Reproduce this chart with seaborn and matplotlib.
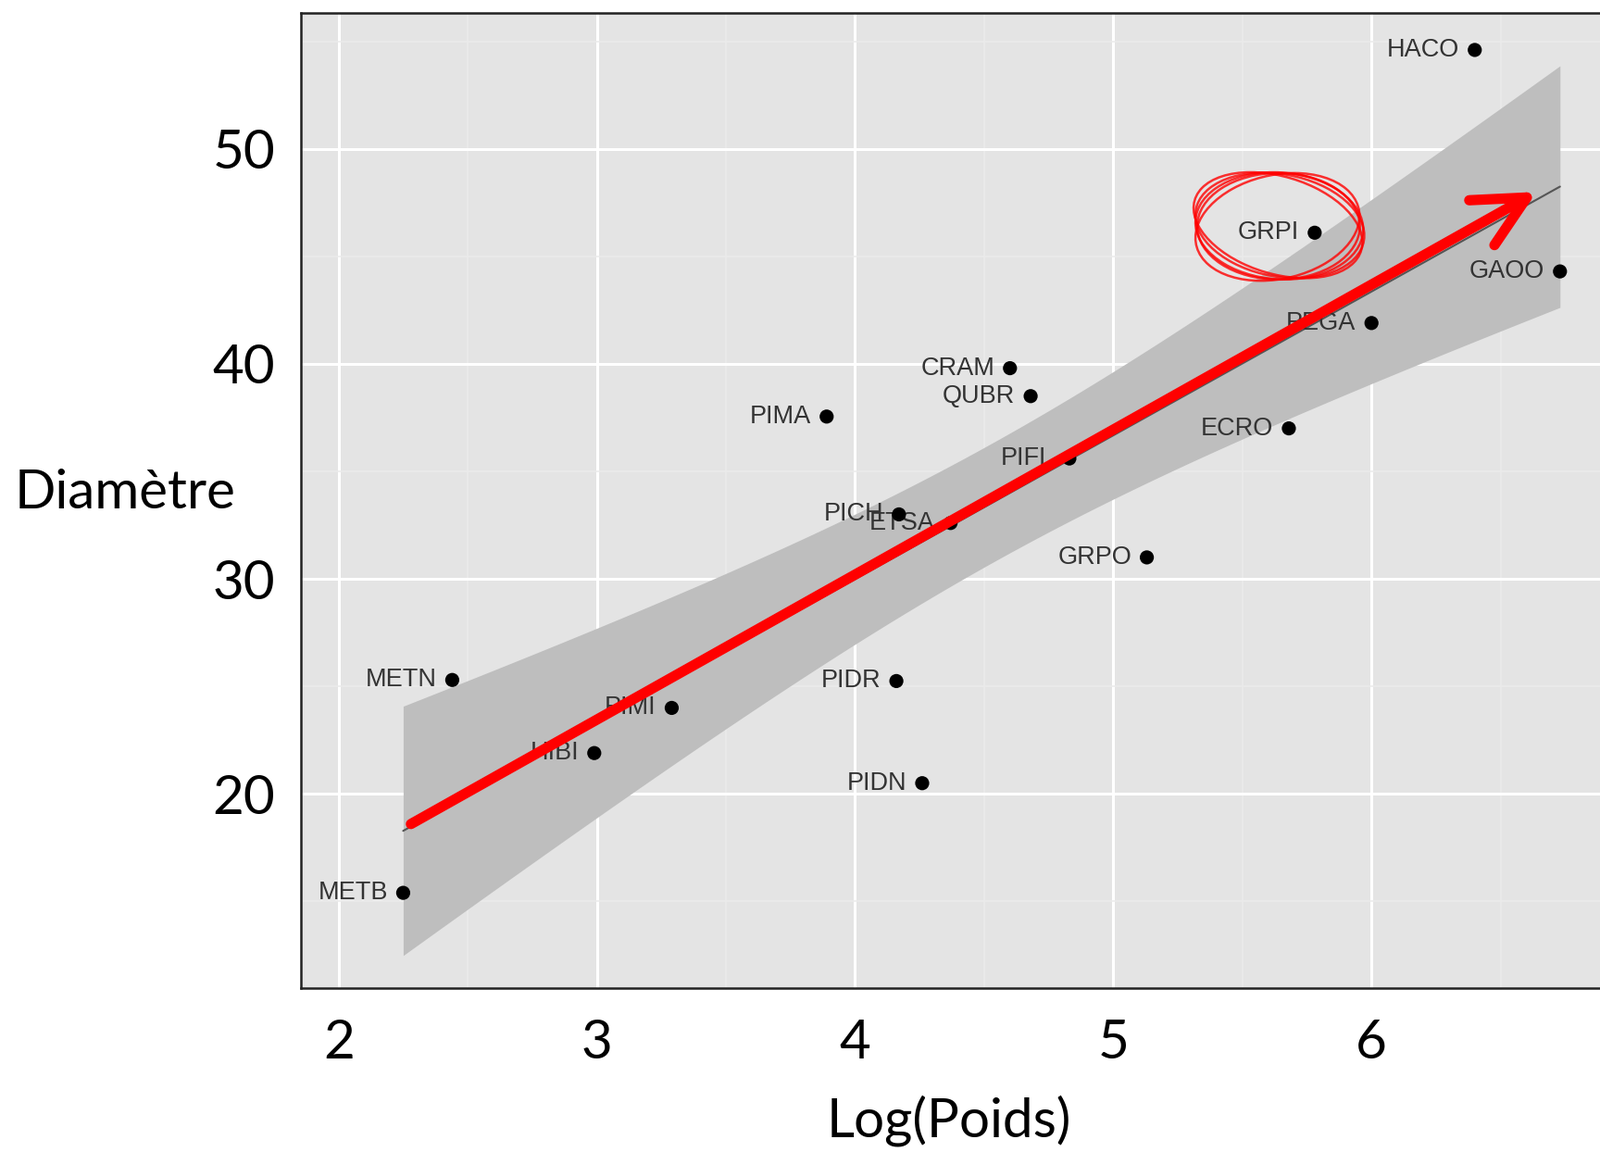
import matplotlib
matplotlib.use("Agg")
import matplotlib.pyplot as plt
from matplotlib.patches import Ellipse
from matplotlib.ticker import MultipleLocator
import seaborn as sns
import pandas as pd
import numpy as np

# ---- data ----
species = ["HACO", "GRPI", "GAOO", "PEGA", "CRAM", "QUBR", "PIMA", "ECRO", "PIFL",
           "PICH", "ETSA", "GRPO", "METN", "PIMI", "PIDR", "HIBI", "PIDN", "METB"]
log_poids = [6.40, 5.78, 6.73, 6.00, 4.60, 4.68, 3.89, 5.68, 4.83,
             4.17, 4.37, 5.13, 2.44, 3.29, 4.16, 2.99, 4.26, 2.25]
diametre = [54.6, 46.1, 44.3, 41.9, 39.8, 38.5, 37.55, 37.0, 35.6,
            33.0, 32.6, 31.0, 25.3, 24.0, 25.25, 21.9, 20.5, 15.4]

x_ticks = [2, 3, 4, 5, 6]
y_ticks = [20, 30, 40, 50]
x_label = "Log(Poids)"
y_label = "Diamètre"

arrow_start = (2.28, 18.6)
arrow_end = (6.64, 48.0)
highlight_center = (5.64, 46.4)

df = pd.DataFrame({"espece": species, "logp": log_poids, "diam": diametre})

sns.set_theme(style="darkgrid")
plt.rcParams["font.family"] = ["Liberation Sans", "DejaVu Sans"]

fig = plt.figure(figsize=(17.28, 12.44), dpi=100)
ax = fig.add_axes([325 / 1728, (1244 - 1067) / 1244, 1 - 325 / 1728, (1067 - 14) / 1244])
ax.set_facecolor("#E4E4E4")

# analytic 95% confidence band of the linear fit (as in ggplot geom_smooth)
xv = np.asarray(log_poids)
yv = np.asarray(diametre)
n = len(xv)
b1, b0 = np.polyfit(xv, yv, 1)
resid = yv - (b0 + b1 * xv)
s = np.sqrt(np.sum(resid ** 2) / (n - 2))
sxx = np.sum((xv - xv.mean()) ** 2)
grid = np.linspace(xv.min(), xv.max(), 100)
fit = b0 + b1 * grid
tcrit = 2.1199  # t(0.975, df=16)
half = tcrit * s * np.sqrt(1 / n + (grid - xv.mean()) ** 2 / sxx)
ax.fill_between(grid, fit - half, fit + half, color="#BEBEBE", linewidth=0, zorder=2)

# regression line
sns.regplot(data=df, x="logp", y="diam", scatter=False, ci=None, ax=ax,
            color="#555555", line_kws={"linewidth": 1.5, "zorder": 3})

# points
sns.scatterplot(data=df, x="logp", y="diam", ax=ax, color="black", s=120,
                edgecolor="none", zorder=5)

# point labels
for name, x0, y0 in zip(species, log_poids, diametre):
    ax.annotate(name, (x0, y0), xytext=(-12, 0), textcoords="offset points",
                ha="right", va="center", fontsize=19.5, color="#333333", zorder=4,
                family=["Liberation Sans", "DejaVu Sans"])

# red arrow
ax.annotate("", xy=arrow_end, xytext=arrow_start,
            arrowprops=dict(arrowstyle="->,head_length=2.0,head_width=1.0",
                            color="#FF0000", lw=8, mutation_scale=20,
                            shrinkA=0, shrinkB=0, capstyle="round",
                            joinstyle="round"),
            zorder=6)

# sketchy red ellipse around GRPI
jitter = [(0.0, 0.0, 0.0, 0.0, 0), (0.005, 0.04, 0.012, -0.05, 1.5),
          (-0.004, -0.03, -0.008, 0.06, -1.5), (0.003, 0.02, 0.018, 0.03, 0.5),
          (-0.002, 0.05, -0.012, -0.02, 2.5)]
for dx, dy, dw, dh, ang in jitter:
    ax.add_patch(Ellipse((highlight_center[0] + dx, highlight_center[1] + dy),
                         0.63 + dw, 4.95 + dh, angle=ang, fill=False,
                         edgecolor="#FF0000", lw=1.8, alpha=0.8, zorder=6))

# axes styling
ax.set_xlim(1.854, 6.885)
ax.set_ylim(10.97, 56.32)
ax.set_xticks(x_ticks)
ax.set_yticks(y_ticks)
ax.xaxis.set_minor_locator(MultipleLocator(0.5))
ax.yaxis.set_minor_locator(MultipleLocator(5))
ax.grid(which="major", color="white", linewidth=2.2)
ax.grid(which="minor", color="#EBEBEB", linewidth=1.1)
ax.set_axisbelow(True)

for side in ["left", "top", "bottom"]:
    ax.spines[side].set_visible(True)
    ax.spines[side].set_color("#222222")
    ax.spines[side].set_linewidth(1.8)
ax.spines["right"].set_visible(False)

tick_font = ["Lato", "DejaVu Sans"]
ax.tick_params(axis="both", which="both", length=0)
ax.tick_params(axis="y", pad=20)
ax.tick_params(axis="x", pad=24)
for lab in ax.get_xticklabels() + ax.get_yticklabels():
    lab.set_fontsize(42)
    lab.set_family(tick_font)
    lab.set_color("black")

ax.set_xlabel(x_label, fontsize=42, family=tick_font, color="black", va="center")
ax.set_ylabel(y_label, fontsize=42, family=tick_font, color="black",
              rotation=0, ha="left", va="center")
ax.xaxis.set_label_coords(0.499, -0.136)
ax.yaxis.set_label_coords(-0.2202, 0.508)

fig.savefig("out.png", dpi=100)
